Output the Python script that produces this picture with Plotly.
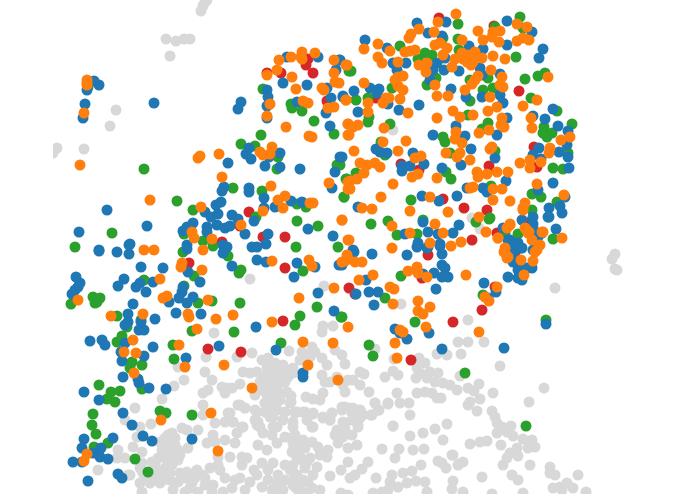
import plotly.graph_objects as go

# positions, x then y (y grows downward)
grey_points = [(205,2),(201,11),(203,6),(207,0),(166,39),(176,41),(184,39),(190,39),(170,56),(116,110),(110,126),(84,149),(57,148),(53,153),
(393,130),(472,218),(480,229),(250,279),(324,286),(214,333),(323,326),(333,326),(322,332),
(206,357),(178,367),(205,372),(212,380),(184,380),(174,386),(162,399),(208,390),(203,393),(227,388),(222,387),(225,393),(203,405),
(125,420),(118,450),(117,458),(125,458),(98,470),(128,475),
(238,405),(245,408),(257,412),(255,420),(257,425),(265,403),(270,408),(277,402),(290,403),(295,413),(270,417),(263,433),(258,445),(267,450),(272,435),(277,427),(277,443),(293,450),(293,437),(285,437),(228,413),(225,422),(233,422),(242,427),(237,433),(235,443),(215,423),(203,415),(213,435),(207,443),(215,442),(225,440),(218,457),(230,457),(210,468),(218,465),(242,457),(247,458),(242,465),(262,463),(257,475),(273,463),(285,465),(278,475),(293,472),(277,483),(262,487),(293,485),(245,490),(232,488),(223,492),(213,485),(205,485),(202,475),(187,472),(180,473),(197,470),(192,483),(178,482),(170,480),(160,483),(150,483),(140,483),(142,492),(173,490),(185,492),
(182,428),(187,430),(198,430),(188,448),(168,435),(175,438),(160,442),(167,443),(175,445),(162,450),(170,452),(178,450),(158,458),(167,460),(178,460),(152,462),(165,468),(157,470),(155,478),(163,480),(143,473),(142,463),(142,452),(133,447),(140,468),(130,475),(151,424),(135,408),(140,427),(137,437),
(252,353),(237,357),(289,351),(262,360),(268,358),(275,363),(283,365),(293,368),(302,352),(305,355),(312,347),(315,352),(322,358),(327,365),(335,350),(342,355),(345,364),(310,357),(300,360),(243,372),(250,373),(257,372),(267,368),(272,373),(265,377),(283,377),(288,377),(293,373),(280,383),(285,382),(273,387),(240,384),(232,388),(267,395),(262,390),(255,395),(272,398),(280,400),(291,396),(291,402),(306,397),(313,399),(320,400),(323,393),(322,375),(325,382),(330,382),(337,377),(343,385),(348,380),(353,380),(345,392),(360,385),(369,392),(360,372),(364,374),(385,377),(393,371),(398,375),(397,393),(388,403),(375,403),(378,410),(372,415),(363,415),(360,410),(345,407),(353,408),(342,410),(332,413),(323,417),(330,420),(313,413),(303,412),(295,412),(285,412),(277,410),(270,405),(265,403),(265,412),(255,410),(245,408),(240,405),(258,422),(260,427),(273,417),(273,427),(283,420),(293,422),(313,427),(337,430),(345,423),(352,420),(358,427),(393,426),(233,422),(243,427),(230,413),(375,349),(394,359),
(297,412),(305,412),(313,414),(323,418),(330,420),(332,413),(342,407),(350,408),(360,410),(371,415),(379,410),(375,403),(388,404),(400,403),(409,403),(352,413),(360,418),(358,425),(343,422),(345,428),(335,435),(343,437),(352,435),(338,443),(357,445),(348,448),(328,450),(320,455),(327,457),(312,427),(307,420),(293,427),(295,435),(303,440),(312,442),(318,447),(293,443),(300,450),(292,452),(310,458),(302,460),(305,468),(293,465),(317,467),(313,475),(297,475),(303,480),(295,487),(312,488),(320,490),(348,462),(341,470),(330,476),(368,462),(362,469),(355,475),(350,478),(376,478),(392,475),(390,482),(403,473),(412,471),(407,483),(416,481),(425,482),(398,487),(388,490),(382,492),(373,493),(427,492),(453,481),(452,489),(341,493),(348,495),(410,415),(393,426),(410,436),(423,433),(435,429),(447,424),(443,440),(382,449),(399,449),(395,458),(413,450),(424,449),(421,465),(438,461),(442,463),(446,468),(452,455),(458,465),
(615,254),(612,259),(615,269),(617,270),(555,288),(401,304),(468,320),(458,342),(468,342),(484,342),(437,354),(447,355),(461,354),(419,358),(425,363),(500,366),(417,368),(420,373),(430,372),(438,373),(416,378),(427,378),(435,382),(443,383),(450,385),(457,390),(460,376),(479,384),(468,388),(474,391),(544,388),(493,393),(417,393),(425,392),(432,393),(437,398),(441,398),(480,399),(470,402),(468,405),(529,402),(477,411),(492,411),(495,417),(497,423),(502,427),(511,426),(497,433),(507,432),(513,436),(523,439),(532,440),(535,447),(528,448),(517,448),(510,453),(518,456),(507,458),(530,465),(503,465),(512,475),(518,480),(550,467),(550,473),(555,475),(578,475),(482,477),(470,444),(480,442),(487,441),(501,445),(463,462),(459,464),(453,455),(492,494),(523,493),(553,488),(560,487),(567,483),(573,488),(586,492),(562,490),(463,492),
(290,470),(295,480),(285,480),(298,490),(280,490),(272,490),(298,445),(305,448),(300,457),(307,462),(297,458),(300,487),(308,482),(307,493),(172,433),(165,438),(180,455),(172,458),(163,455),(155,463),(172,465),(160,475),(148,478),(170,473),(185,478),(195,478),(190,488),(205,478),(198,492),(212,492),(235,480),(225,478),(220,470),(240,478),(250,482),(254,470),(268,480),(283,490),(268,470),(270,390),(275,378),(278,367),(285,372),(278,392),(287,392),(260,382),(268,385),(280,375)]

red_points = [(267,73),(281,73),(308,59),(306,65),(313,73),(327,101),(249,212),(240,226),(263,237),(285,237),(222,242),
(439,18),(494,26),(519,91),(376,98),(534,147),(401,164),(537,167),(489,166),(443,199),(464,208),(487,210),(472,240),(497,233),(527,223),(419,170),
(189,263),(285,268),(349,288),(283,321),(208,349),(241,352),
(428,255),(422,278),(495,287),(482,310),(453,322),(411,360),(515,252),(355,294),(514,253),(528,223)]

green_points = [(88,87),(261,135),(241,144),(255,146),(263,89),(291,104),(292,108),(302,111),(314,121),(334,134),(144,169),(278,157),(277,169),(337,165),(346,179),(233,188),(262,191),(177,201),(193,210),(297,204),(306,207),(344,197),(256,217),(297,221),(318,226),(112,233),(184,234),(203,241),(213,246),(75,247),(296,247),(338,247),(349,71),
(520,17),(458,24),(495,27),(523,28),(400,46),(443,38),(458,39),(425,53),(432,55),(418,59),(459,50),(516,57),(351,71),(436,78),(427,85),(525,79),(538,76),(545,73),(488,78),(470,80),(392,88),(483,90),(493,88),(470,101),(356,100),(368,98),(531,98),(557,111),(369,117),(368,122),(468,115),(390,124),(488,123),(482,129),(572,124),(544,127),(543,133),(552,133),(547,137),(443,137),(445,142),(381,142),(495,151),(568,153),(450,153),(385,155),(356,173),(446,172),(451,179),(347,179),(553,168),(563,169),(340,165),(344,197),(411,200),(491,186),(532,194),(541,197),(557,202),(371,224),(388,221),(423,220),(476,222),(489,219),(397,235),(417,234),(518,234),(532,210),(553,239),(490,218),(505,233),
(183,252),(228,256),(241,270),(239,273),(303,271),(194,276),(144,280),(184,286),(93,297),(100,298),(95,303),(97,302),(71,304),(198,303),(212,301),(240,303),(317,307),(117,316),(300,316),(341,317),(295,325),(127,327),(141,320),(192,331),(234,332),(122,336),(117,342),(173,345),(281,343),(174,359),(132,362),(142,365),(130,368),(142,389),(99,385),(111,392),(120,391),(107,399),(115,402),(93,414),(92,425),(96,434),(108,443),(94,447),(160,411),(166,413),(192,415),(135,459),(148,472),
(401,276),(385,298),(483,295),(342,317),(415,322),(369,345),(373,356),(465,373),(546,320),(526,426)]

blue_points = [(94,81),(99,85),(87,90),(85,104),(83,118),(154,103),(241,102),(238,109),
(287,57),(318,57),(339,60),(336,70),(283,83),(307,85),(267,90),(268,97),(267,106),(267,118),(297,102),(331,98),(343,97),(326,113),(330,126),(327,88),(249,148),(246,154),(251,159),(228,163),(265,166),(280,153),(269,157),(280,167),(300,169),(340,157),(335,172),(332,188),(224,187),(222,191),(249,188),(249,192),(264,198),(291,201),(302,202),(275,207),(264,208),(221,202),(216,205),(205,212),(211,217),(218,214),(232,215),(238,219),(254,221),(107,210),(147,226),(79,232),(130,244),(99,250),(117,252),(193,223),(187,227),(183,231),(207,227),(207,232),(217,225),(225,228),(230,226),(245,234),(268,234),(308,229),(333,236),(266,244),(252,247),(257,247),(187,245),(223,245),(227,247),
(417,23),(446,22),(507,21),(532,32),(428,33),(442,36),(365,40),(387,48),(507,45),(543,49),(539,58),(483,49),(469,46),(340,60),(393,63),(406,63),(437,63),(445,58),(433,70),(444,70),(459,71),(480,68),(482,75),(500,74),(397,70),(430,80),(451,89),(354,91),(370,88),(379,89),(377,93),(343,96),(466,97),(482,97),(500,95),(503,103),(388,104),(419,105),(399,110),(358,112),(553,109),(533,116),(545,119),(507,118),(558,126),(568,131),(456,126),(433,135),(465,136),(497,135),(567,145),(539,148),(471,149),(376,149),(380,152),(387,153),(559,152),(568,157),(413,153),(533,155),(342,157),(495,158),(541,159),(424,164),(461,165),(402,166),(410,166),(402,171),(442,168),(569,168),(553,183),(506,181),(483,188),(487,192),(467,188),(538,190),(422,196),(457,196),(439,201),(358,207),(565,197),(549,208),(560,206),(562,213),(549,217),(533,217),(522,220),(423,222),(459,225),(428,232),(438,234),(453,233),(405,234),(556,229),(533,224),(503,228),(418,243),(440,244),(510,240),(515,245),(353,250),(538,237),(427,248),
(99,251),(129,254),(129,245),(187,249),(223,253),(257,260),(266,262),(297,263),(315,267),(294,277),(141,267),(163,268),(188,272),(232,266),(200,282),(76,277),(80,283),(78,287),(75,290),(72,294),(124,279),(118,286),(136,287),(140,283),(153,282),(146,292),(183,287),(182,292),(179,298),(169,302),(193,297),(187,303),(318,293),(339,265),(133,304),(176,313),(201,314),(334,311),(256,327),(128,314),(155,319),(128,322),(125,325),(141,322),(139,330),(144,330),(90,341),(102,340),(105,345),(125,343),(153,347),(219,346),(276,350),(121,352),(144,356),(122,361),(186,358),(123,377),(138,379),(139,383),(149,388),(166,389),(84,392),(99,400),(123,413),(132,425),(143,436),(152,441),(192,439),(113,438),(84,439),(82,448),(101,448),(93,453),(100,457),(108,459),(73,462),(82,462),(118,474),(122,478),(88,481),(303,373),(303,377),
(354,252),(372,254),(407,255),(417,247),(428,247),(440,246),(442,254),(442,265),(445,268),(434,273),(442,277),(448,277),(436,289),(366,280),(356,294),(369,292),(378,292),(374,305),(484,283),(496,292),(488,298),(508,277),(522,280),(527,268),(532,268),(515,260),(520,248),(533,250),(512,252),(518,270),(395,329),(400,333),(407,339),(429,333),(442,349),(504,348),(546,324),(342,265),(423,274),
(513,243),(508,240),(518,243),(515,250),(522,248),(510,245),(548,217),(542,233),(533,228),(513,262),(525,268),(518,278)]

orange_points = [(87,80),(87,85),(87,83),(84,113),(80,165),
(267,75),(277,70),(279,60),(291,57),(302,52),(301,57),(302,59),(315,53),(292,77),(296,89),(322,88),(324,90),(334,60),(334,73),(335,82),(339,83),(346,65),(303,101),(308,103),(270,104),(267,116),(286,127),(309,136),(312,137),(328,108),(334,107),(346,100),(348,124),(348,135),(198,158),(200,156),(219,154),(260,152),(263,155),(272,147),(270,154),(222,177),(271,186),(329,183),(348,182),(348,189),(150,200),(278,200),(285,196),(310,203),(313,203),(283,208),(263,211),(201,207),(342,220),(192,232),(194,238),(212,239),(241,225),(348,240),(144,250),(154,250),(203,250),
(456,14),(438,22),(517,24),(527,27),(478,31),(419,29),(434,32),(411,34),(409,38),(378,44),(364,49),(390,51),(462,40),(483,40),(493,32),(500,31),(492,37),(499,42),(517,41),(523,38),(529,40),(440,43),(435,45),(447,48),(443,55),(405,52),(410,51),(415,50),(419,65),(427,63),(426,72),(452,67),(455,59),(462,53),(468,55),(475,52),(467,62),(473,62),(482,58),(475,58),(463,59),(471,65),(493,56),(505,59),(491,70),(378,57),(382,63),(398,62),(347,65),(398,77),(403,76),(395,80),(398,86),(403,90),(364,83),(435,85),(478,76),(475,80),(472,84),(465,90),(502,77),(500,85),(503,87),(548,77),(437,96),(448,96),(490,97),(537,100),(523,106),(497,107),(488,111),(453,111),(460,117),(473,115),(437,118),(408,113),(400,99),(386,98),(389,98),(383,103),(346,100),(368,103),(368,112),(502,118),(501,125),(504,127),(531,118),(532,128),(384,128),(358,125),(348,124),(353,127),(349,135),(489,130),(479,133),(456,132),(455,139),(462,143),(406,141),(383,142),(354,151),(398,151),(561,140),(570,137),(550,148),(549,153),(492,147),(490,149),(446,153),(460,153),(457,157),(421,156),(415,158),(470,160),(360,163),(367,165),(375,163),(380,167),(364,173),(357,179),(350,181),(350,189),(520,163),(530,160),(530,168),(541,162),(418,174),(412,177),(437,178),(477,172),(487,174),(478,177),(497,172),(508,172),(393,184),(473,187),(470,188),(493,189),(502,189),(537,184),(564,195),(381,197),(430,197),(493,200),(510,201),(525,203),(523,208),(362,208),(372,209),(410,211),(448,212),(479,217),(342,220),(392,226),(435,224),(510,224),(507,228),(526,229),(528,233),(532,240),(542,232),(410,233),(443,233),(486,232),(498,238),(562,238),(349,240),(430,243),(451,246),(461,242),(392,248),(540,245),(505,248),
(272,261),(309,260),(312,266),(182,263),(181,267),(202,270),(160,279),(334,288),(342,262),(348,259),(167,296),(163,298),(208,300),(78,300),(299,298),(111,316),(143,314),(188,314),(189,317),(216,319),(233,315),(272,322),(348,327),(197,329),(133,340),(303,342),(333,343),(179,345),(124,352),(136,353),(185,367),(224,365),(308,365),(134,373),(252,388),(338,380),(211,413),(161,420),(218,451),(87,454),(84,461),
(345,261),(347,255),(355,262),(362,262),(373,275),(359,280),(408,271),(417,267),(418,273),(427,277),(466,275),(390,287),(394,289),(393,304),(418,301),(430,307),(418,311),(423,314),(426,327),(400,330),(403,332),(395,343),(397,358),(479,332),(497,287),(485,297),(489,301),(505,252),(508,257),(521,260),(533,261),(524,275),(537,250),
(510,225),(498,238),(504,252),(507,258),(525,228),(529,232),(535,252),(543,232),(523,210)]

series = [
    (grey_points, "#d8d8d8"),
    (red_points, "#d62728"),
    (green_points, "#2ca02c"),
    (blue_points, "#1f77b4"),
    (orange_points, "#ff7f0e"),
]

fig = go.Figure()
for points, color in series:
    xs, ys = zip(*points)
    fig.add_trace(go.Scatter(x=xs, y=ys, mode="markers",
                             marker=dict(size=11, color=color, line=dict(width=0))))

fig.update_xaxes(visible=False, range=[53, 695])
fig.update_yaxes(visible=False, range=[494, 0])
fig.update_layout(width=695, height=494, margin=dict(l=53, r=0, t=0, b=0),
                  showlegend=False, hovermode=False,
                  plot_bgcolor="white", paper_bgcolor="white")

# the page's default body margin would push the plot off by 8px
fig.write_html("out.html", config={"displayModeBar": False},
               post_script="document.body.style.margin='0';")
